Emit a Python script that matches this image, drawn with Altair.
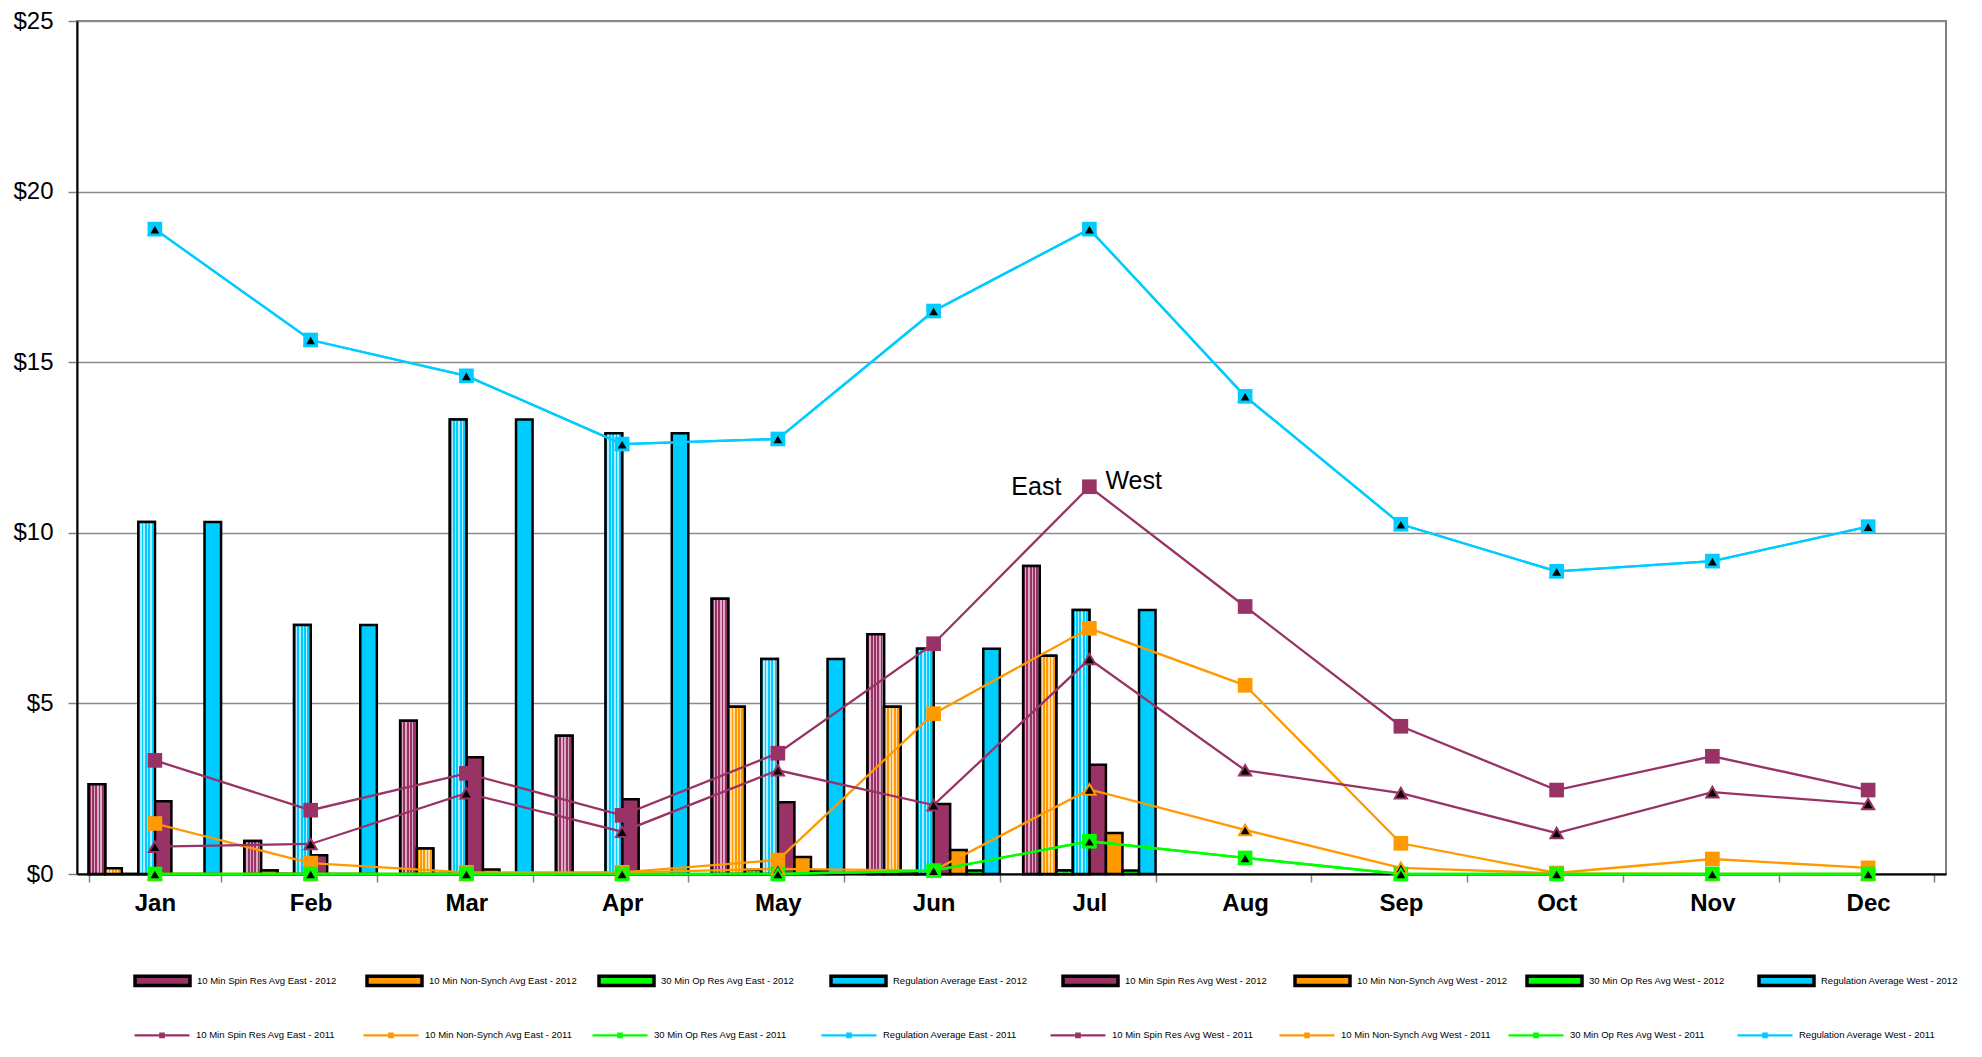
import altair as alt
import pandas as pd

# ---------------- data ----------------
months = ["Jan", "Feb", "Mar", "Apr", "May", "Jun", "Jul", "Aug", "Sep", "Oct", "Nov", "Dec"]
months_2012 = months[:7]

bar_series = [
    "10 Min Spin Res Avg East - 2012",
    "10 Min Non-Synch Avg East - 2012",
    "30 Min Op Res Avg East - 2012",
    "Regulation Average East - 2012",
    "10 Min Spin Res Avg West - 2012",
    "10 Min Non-Synch Avg West - 2012",
    "30 Min Op Res Avg West - 2012",
    "Regulation Average West - 2012",
]
spin_east_2012 = [2.63, 0.97, 4.49, 4.05, 8.07, 7.03, 9.03]
nonsynch_east_2012 = [0.17, 0.10, 0.75, 0.02, 4.90, 4.90, 6.40]
op30_east_2012 = [0.0, 0.0, 0.0, 0.0, 0.12, 0.05, 0.10]
reg_east_2012 = [10.32, 7.30, 13.32, 12.92, 6.30, 6.60, 7.74]
spin_west_2012 = [2.13, 0.55, 3.42, 2.19, 2.10, 2.05, 3.20]
nonsynch_west_2012 = [0.0, 0.0, 0.13, 0.0, 0.50, 0.70, 1.20]
op30_west_2012 = [0.0, 0.0, 0.0, 0.0, 0.10, 0.10, 0.10]
reg_west_2012 = [10.32, 7.30, 13.32, 12.92, 6.30, 6.60, 7.74]

line_series = [
    "10 Min Spin Res Avg East - 2011",
    "10 Min Non-Synch Avg East - 2011",
    "30 Min Op Res Avg East - 2011",
    "Regulation Average East - 2011",
    "10 Min Spin Res Avg West - 2011",
    "10 Min Non-Synch Avg West - 2011",
    "30 Min Op Res Avg West - 2011",
    "Regulation Average West - 2011",
]
spin_east_2011 = [3.33, 1.87, 2.95, 1.72, 3.54, 6.75, 11.35, 7.84, 4.33, 2.46, 3.45, 2.46]
nonsynch_east_2011 = [1.48, 0.32, 0.05, 0.05, 0.41, 4.70, 7.20, 5.53, 0.90, 0.03, 0.44, 0.18]
op30_east_2011 = [0.0, 0.0, 0.0, 0.0, 0.0, 0.10, 0.96, 0.47, 0.0, 0.0, 0.0, 0.0]
reg_east_2011 = [18.9, 15.65, 14.6, 12.6, 12.75, 16.5, 18.9, 14.0, 10.25, 8.87, 9.17, 10.18]
spin_west_2011 = [0.80, 0.88, 2.37, 1.24, 3.04, 2.02, 6.30, 3.04, 2.37, 1.20, 2.40, 2.05]
nonsynch_west_2011 = [0.0, 0.0, 0.0, 0.04, 0.15, 0.10, 2.48, 1.29, 0.18, 0.02, 0.0, 0.0]
op30_west_2011 = [0.0, 0.0, 0.0, 0.0, 0.0, 0.10, 0.96, 0.47, 0.0, 0.0, 0.0, 0.0]
reg_west_2011 = [18.9, 15.65, 14.6, 12.6, 12.75, 16.5, 18.9, 14.0, 10.25, 8.87, 9.17, 10.18]

y_ticks = [0, 5, 10, 15, 20, 25]
annotations = ["East", "West"]

# ---------------- styling ----------------
MAROON, ORANGE, GREEN, CYAN = "#993366", "#FF9900", "#00FF00", "#00CCFF"
series_colors = [MAROON, ORANGE, GREEN, CYAN, MAROON, ORANGE, GREEN, CYAN]
light_colors = {MAROON: "#dcaac4", ORANGE: "#ffdba6", GREEN: "#b8ffb8", CYAN: "#b3ecff"}
line_widths = [2.3, 2.3, 4, 3, 2.3, 2.3, 4, 3]
FONT = "Liberation Sans"
LEG_FONT_SIZE = 9.5

W, H = 1869, 853

bar_values = [spin_east_2012, nonsynch_east_2012, op30_east_2012, reg_east_2012,
              spin_west_2012, nonsynch_west_2012, op30_west_2012, reg_west_2012]
line_values = [spin_east_2011, nonsynch_east_2011, op30_east_2011, reg_east_2011,
               spin_west_2011, nonsynch_west_2011, op30_west_2011, reg_west_2011]

bars_df = pd.DataFrame([
    {"month": m, "series": s, "value": v}
    for s, vals in zip(bar_series, bar_values)
    for m, v in zip(months_2012, vals)
])
lines_df = pd.DataFrame([
    {"month": m, "series": s, "value": v, "region": "West" if "West" in s else "East"}
    for s, vals in zip(line_series, line_values)
    for m, v in zip(months, vals)
])
ann_df = pd.DataFrame({"month": ["Jul", "Jul"], "value": [spin_east_2011[6]] * 2, "label": annotations})


def stripes(c1, c2, n=5):
    stops = []
    for i in range(n):
        a, b, c = i / n, (i + 0.55) / n, (i + 1) / n
        stops += [{"offset": a, "color": c1}, {"offset": b, "color": c1},
                  {"offset": b, "color": c2}, {"offset": c, "color": c2}]
    return {"gradient": "linear", "x1": 0, "y1": 0, "x2": 1, "y2": 0, "stops": stops}


x_enc = alt.X("month:N", scale=alt.Scale(domain=months, paddingInner=0.15, paddingOuter=0.075),
              axis=alt.Axis(title=None, labelFont=FONT, labelFontSize=24, labelFontWeight="bold",
                            labelColor="black", labelAngle=0, tickBand="extent", tickSize=8,
                            tickColor="#808080", tickWidth=1.5, domainColor="black",
                            domainWidth=2, labelPadding=9, grid=False))
y_enc = alt.Y("value:Q", scale=alt.Scale(domain=[0, 25], nice=False),
              axis=alt.Axis(title=None, values=y_ticks, format="$.0f", labelFont=FONT,
                            labelFontSize=24, labelColor="black", tickSize=9, tickColor="#808080",
                            tickWidth=1.5, labelPadding=15, domainColor="black", domainWidth=2,
                            grid=True, gridColor="#8c8c8c", gridWidth=1.5))
xoff = alt.XOffset("series:N", scale=alt.Scale(domain=bar_series, paddingInner=0, paddingOuter=0))

common_legend = dict(
    orient="none", legendX=56, direction="horizontal", columns=8, title=None,
    symbolSize=3025, labelFont=FONT, labelFontSize=LEG_FONT_SIZE, labelColor="black",
    labelOffset=5, columnPadding=12, gridAlign="all", labelLimit=400, padding=0)

bar_legend = alt.Legend(legendY=930, symbolType="M-1,-0.17H1V0.17H-1Z",
                        symbolStrokeColor="black", symbolStrokeWidth=3.5, **common_legend)

bars = alt.Chart(bars_df).mark_bar(stroke="black", strokeWidth=2.5).encode(
    x=x_enc, y=y_enc, xOffset=xoff,
    fill=alt.Fill("series:N", scale=alt.Scale(domain=bar_series, range=series_colors), legend=bar_legend),
)

layers = [bars]
for s, c in zip(bar_series[:4], series_colors[:4]):
    layers.append(
        alt.Chart(bars_df).transform_filter(alt.datum.series == s)
        .mark_bar(stroke="black", strokeWidth=2.5, fill=stripes(c, light_colors[c]))
        .encode(x=x_enc, y=y_enc, xOffset=xoff)
    )

line_legend = alt.Legend(legendY=985, symbolType="M-1,0H1M-0.06,-0.06H0.06V0.06H-0.06Z",
                         symbolStrokeWidth=3, **common_legend)

color_scale = alt.Scale(domain=line_series, range=series_colors)
stroke_scale = alt.Scale(domain=line_series, range=series_colors)
lines = alt.Chart(lines_df).mark_line().encode(
    x=x_enc, y=y_enc,
    stroke=alt.Stroke("series:N", scale=stroke_scale, legend=line_legend),
    strokeWidth=alt.StrokeWidth("series:N", scale=alt.Scale(domain=line_series, range=line_widths), legend=None),
    detail="series:N",
)
layers.append(lines)

east_pts = alt.Chart(lines_df).transform_filter(alt.datum.region == "East").mark_point(
    shape="square", filled=True, size=215, opacity=1
).encode(
    x=x_enc, y=y_enc,
    color=alt.Color("series:N", scale=color_scale, legend=None),
)
west_pts = alt.Chart(lines_df).transform_filter(alt.datum.region == "West").mark_point(
    shape="triangle-up", filled=True, fill="black", size=150, strokeWidth=2, opacity=1
).encode(
    x=x_enc, y=y_enc,
    stroke=alt.Stroke("series:N", scale=stroke_scale, legend=None),
)
layers += [east_pts, west_pts]

east_txt = alt.Chart(ann_df).transform_filter(alt.datum.label == "East").mark_text(
    font=FONT, fontSize=25, align="right", baseline="alphabetic", dx=-28, dy=8, color="black"
).encode(x=x_enc, y=y_enc, text="label:N")
west_txt = alt.Chart(ann_df).transform_filter(alt.datum.label == "West").mark_text(
    font=FONT, fontSize=25, align="left", baseline="alphabetic", dx=16, dy=2, color="black"
).encode(x=x_enc, y=y_enc, text="label:N")
layers += [east_txt, west_txt]

chart = alt.layer(*layers).properties(
    width=W, height=H,
    autosize=alt.AutoSizeParams(type="none"),
    padding={"left": 69, "top": 13, "right": 26, "bottom": 170},
    background="white",
).configure_view(stroke="#808080", strokeWidth=2)

chart.save("out.html", embed_options={"renderer": "svg", "actions": False})
